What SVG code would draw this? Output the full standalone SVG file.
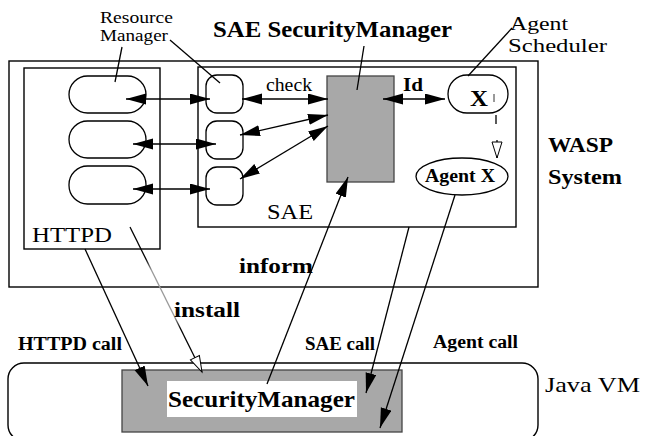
<svg xmlns="http://www.w3.org/2000/svg" width="645" height="436" viewBox="0 0 645 436">
<style>
.ln{fill:none;stroke:#000;stroke-width:1.3}
.box{fill:none;stroke:#000;stroke-width:1.4}
.node{fill:#fff;stroke:#000;stroke-width:1.3}
.gray{fill:#a8a8a8;stroke:#444;stroke-width:1.3}
.t{font-family:"Liberation Serif","Times New Roman",serif;fill:#000}
.b{font-weight:bold}
</style>
<defs>
<marker id="ah" markerUnits="userSpaceOnUse" markerWidth="22" markerHeight="12" refX="20" refY="5.5" orient="auto-start-reverse">
<path d="M0,0 L20,5.5 L0,11 z" fill="#000"/>
</marker>
<marker id="oh" markerUnits="userSpaceOnUse" markerWidth="20" markerHeight="14" refX="17" refY="6" orient="auto">
<path d="M1,1 L17,6 L1,11 z" fill="#fff" stroke="#000" stroke-width="1"/>
</marker>
<linearGradient id="ig" gradientUnits="userSpaceOnUse" x1="130" y1="227" x2="202" y2="372">
<stop offset="0" stop-color="#000"/>
<stop offset="0.22" stop-color="#000"/>
<stop offset="0.3" stop-color="#999"/>
<stop offset="0.62" stop-color="#999"/>
<stop offset="0.7" stop-color="#000"/>
<stop offset="1" stop-color="#000"/>
</linearGradient>
</defs>

<g id="wasp">
<rect class="box" x="9" y="61" width="529" height="226"/>
<text class="t b" x="548" y="152" font-size="22" textLength="65" lengthAdjust="spacingAndGlyphs">WASP</text>
<text class="t b" x="548" y="184" font-size="22" textLength="74" lengthAdjust="spacingAndGlyphs">System</text>
</g>

<g id="httpd">
<rect class="box" x="24" y="68" width="136" height="181"/>
<text class="t" x="32" y="242" font-size="22" textLength="80" lengthAdjust="spacingAndGlyphs">HTTPD</text>
</g>
<g id="res1"><rect class="node" x="69" y="76" width="77" height="37" rx="18.5"/></g>
<g id="res2"><rect class="node" x="69" y="121" width="77" height="37" rx="18.5"/></g>
<g id="res3"><rect class="node" x="69" y="166" width="77" height="38" rx="18.5"/></g>

<g id="sae">
<rect class="box" x="198" y="67" width="318" height="160"/>
<text class="t" x="267" y="219" font-size="22" textLength="46" lengthAdjust="spacingAndGlyphs">SAE</text>
</g>
<g id="chk1"><rect class="node" x="206" y="75" width="37" height="38" rx="11"/></g>
<g id="chk2"><rect class="node" x="206" y="121" width="37" height="38" rx="11"/></g>
<g id="chk3"><rect class="node" x="206" y="167" width="37" height="38" rx="11"/></g>

<g id="saesm">
<rect class="gray" x="327" y="76" width="67" height="106"/>
</g>

<g id="scheduler">
<rect class="node" x="448" y="75" width="60" height="38" rx="19"/>
<text class="t b" x="470" y="106" font-size="24" textLength="18" lengthAdjust="spacingAndGlyphs">X</text>
<line x1="494" y1="94" x2="494" y2="102" stroke="#000" stroke-width="0.8"/>
</g>

<g id="agentx">
<ellipse class="node" cx="462" cy="176.5" rx="46" ry="18.5"/>
<text class="t b" x="425" y="182" font-size="18" textLength="70" lengthAdjust="spacingAndGlyphs">Agent X</text>
</g>

<g id="javavm">
<rect class="box" x="8" y="363" width="530" height="78" rx="16"/>
<text class="t" x="545" y="392" font-size="22" textLength="95" lengthAdjust="spacingAndGlyphs">Java VM</text>
</g>

<g id="securitymanager">
<rect class="gray" x="122" y="370" width="280" height="62"/>
<rect x="167" y="381" width="190" height="36" fill="#fff"/>
<text class="t b" x="168" y="407" font-size="23" textLength="187" lengthAdjust="spacingAndGlyphs">SecurityManager</text>
</g>

<g id="labels">
<text class="t" x="100" y="23" font-size="16.5" textLength="73" lengthAdjust="spacingAndGlyphs">Resource</text>
<text class="t" x="100" y="41" font-size="16.5" textLength="68" lengthAdjust="spacingAndGlyphs">Manager</text>
<text class="t b" x="213" y="37" font-size="22.5" textLength="239" lengthAdjust="spacingAndGlyphs">SAE SecurityManager</text>
<text class="t" x="510" y="30" font-size="19" textLength="58" lengthAdjust="spacingAndGlyphs">Agent</text>
<text class="t" x="508" y="52" font-size="19.5" textLength="99" lengthAdjust="spacingAndGlyphs">Scheduler</text>
</g>

<g id="connectors">
<line class="ln" x1="122" y1="47" x2="115" y2="82"/>
<line class="ln" x1="170" y1="40" x2="220" y2="83"/>
<line class="ln" x1="364" y1="46" x2="357" y2="90"/>
<line class="ln" x1="512" y1="28" x2="468" y2="76"/>

<line class="ln" x1="126" y1="99" x2="210" y2="99" marker-start="url(#ah)" marker-end="url(#ah)"/>
<line class="ln" x1="133" y1="144" x2="216" y2="144" marker-start="url(#ah)" marker-end="url(#ah)"/>
<line class="ln" x1="133" y1="189" x2="210" y2="189" marker-start="url(#ah)" marker-end="url(#ah)"/>

<line class="ln" x1="242" y1="99" x2="328" y2="99" marker-start="url(#ah)" marker-end="url(#ah)"/>
<text class="t" x="266" y="91" font-size="18" textLength="46" lengthAdjust="spacingAndGlyphs">check</text>
<line class="ln" x1="240" y1="135" x2="328" y2="115" marker-start="url(#ah)" marker-end="url(#ah)"/>
<line class="ln" x1="240" y1="179" x2="328" y2="126" marker-start="url(#ah)" marker-end="url(#ah)"/>

<line class="ln" x1="383" y1="99" x2="445" y2="99" marker-start="url(#ah)" marker-end="url(#ah)"/>
<text class="t b" x="403" y="91" font-size="19" textLength="20" lengthAdjust="spacingAndGlyphs">Id</text>

<line class="ln" x1="496" y1="115" x2="496" y2="124"/>
<line class="ln" x1="497" y1="140" x2="497" y2="158" marker-end="url(#oh)"/>

<line class="ln" x1="85" y1="249" x2="148" y2="386" marker-end="url(#ah)"/>
<text class="t b" x="18" y="350" font-size="18" textLength="104" lengthAdjust="spacingAndGlyphs">HTTPD call</text>

<line x1="130" y1="227" x2="202" y2="372" fill="none" stroke="url(#ig)" stroke-width="1.3" marker-end="url(#oh)"/>
<text class="t b" x="174" y="317" font-size="21" textLength="66" lengthAdjust="spacingAndGlyphs">install</text>

<line class="ln" x1="267" y1="384" x2="348" y2="177" marker-end="url(#ah)"/>
<text class="t b" x="239" y="273" font-size="21" textLength="74" lengthAdjust="spacingAndGlyphs">inform</text>

<line class="ln" x1="409" y1="227" x2="366" y2="393" marker-end="url(#ah)"/>
<text class="t b" x="305" y="350" font-size="18" textLength="70" lengthAdjust="spacingAndGlyphs">SAE call</text>

<line class="ln" x1="455" y1="195" x2="380" y2="428" marker-end="url(#ah)"/>
<text class="t b" x="433" y="348" font-size="18" textLength="85" lengthAdjust="spacingAndGlyphs">Agent call</text>
</g>
</svg>
